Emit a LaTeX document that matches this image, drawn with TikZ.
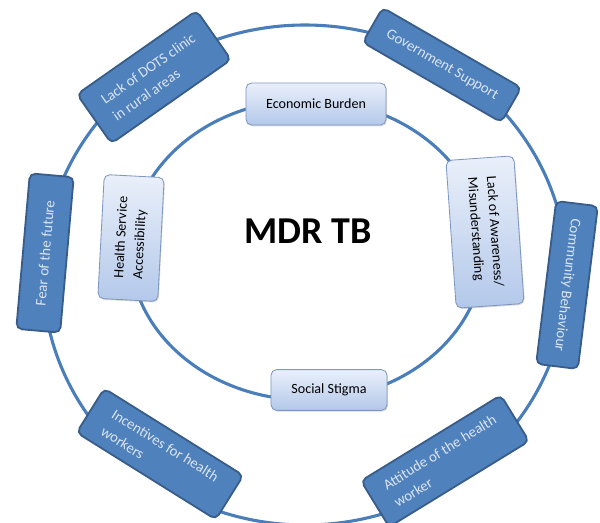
\documentclass[tikz,border=0pt]{standalone}
\usepackage{fontspec}
\setmainfont{Carlito}
\usetikzlibrary{shadows}
\definecolor{ringblue}{HTML}{4A7EBB}
\definecolor{boxblue}{HTML}{4F81BD}
\definecolor{darkedge}{HTML}{385D8A}
\definecolor{boxtext}{HTML}{DCE5F0}
\definecolor{lightedge}{HTML}{7D98C2}
\definecolor{lighttop}{HTML}{EAF0FA}
\definecolor{lightbottom}{HTML}{B3C8EA}

\begin{document}
\begin{tikzpicture}[x=0.025cm, y=-0.025cm,
  ring/.style={draw=ringblue, line width=2.2pt},
  outerbox/.style={draw=darkedge, line width=1.3pt, fill=boxblue, rounded corners=4pt,
    text=boxtext, font=\fontsize{10.5}{14.5}\selectfont, align=left, inner sep=2pt},
  innerbox/.style={draw=lightedge, line width=0.6pt, top color=lighttop, bottom color=lightbottom,
    rounded corners=4pt, font=\fontsize{10}{13.5}\selectfont, align=left, inner sep=2pt,
    drop shadow={shadow xshift=0.6pt, shadow yshift=-0.9pt, opacity=0.3}}]
  \useasboundingbox (0,0) rectangle (600,522);

  \draw[ring] (305,275) ellipse [x radius=262, y radius=250];
  \draw[ring] (307,250) ellipse [x radius=177, y radius=150];

  \node[outerbox, minimum width=3.65cm, minimum height=1.5cm, rotate=35] (dots) at (154,77) {Lack of DOTS clinic\\in rural areas};
  \node[outerbox, minimum width=4.0cm, minimum height=1.0cm, rotate=-30] (govt) at (442,65) {Government Support};
  \node[outerbox, minimum width=3.9cm, minimum height=1.1cm, rotate=85] (fear) at (45,253) {Fear of the future};
  \node[outerbox, minimum width=4.1cm, minimum height=1.05cm, rotate=-97] (community) at (567,285) {Community Behaviour};
  \node[outerbox, minimum width=4.1cm, minimum height=1.3cm, rotate=-32] (incentives) at (160,454) {Incentives for health\\workers};
  \node[outerbox, minimum width=4.1cm, minimum height=1.35cm, rotate=31.5] (attitude) at (445,461) {Attitude of the health\\worker};

  \node[innerbox, minimum width=3.5cm, minimum height=1.05cm] (econ) at (316,104) {Economic Burden};
  \node[innerbox, minimum width=2.9cm, minimum height=1.02cm] (stigma) at (329,390) {Social Stigma};
  \node[innerbox, minimum width=3.1cm, minimum height=1.5cm, rotate=87] (access) at (131,238) {Health Service\\Accessibility};
  \node[innerbox, minimum width=3.7cm, minimum height=1.7cm, rotate=-86] (awareness) at (485,232) {Lack of Awareness/\\Misunderstanding};

  \node (core) at (308,231) {\fontsize{27}{30}\selectfont\bfseries MDR TB};
\end{tikzpicture}
\end{document}
